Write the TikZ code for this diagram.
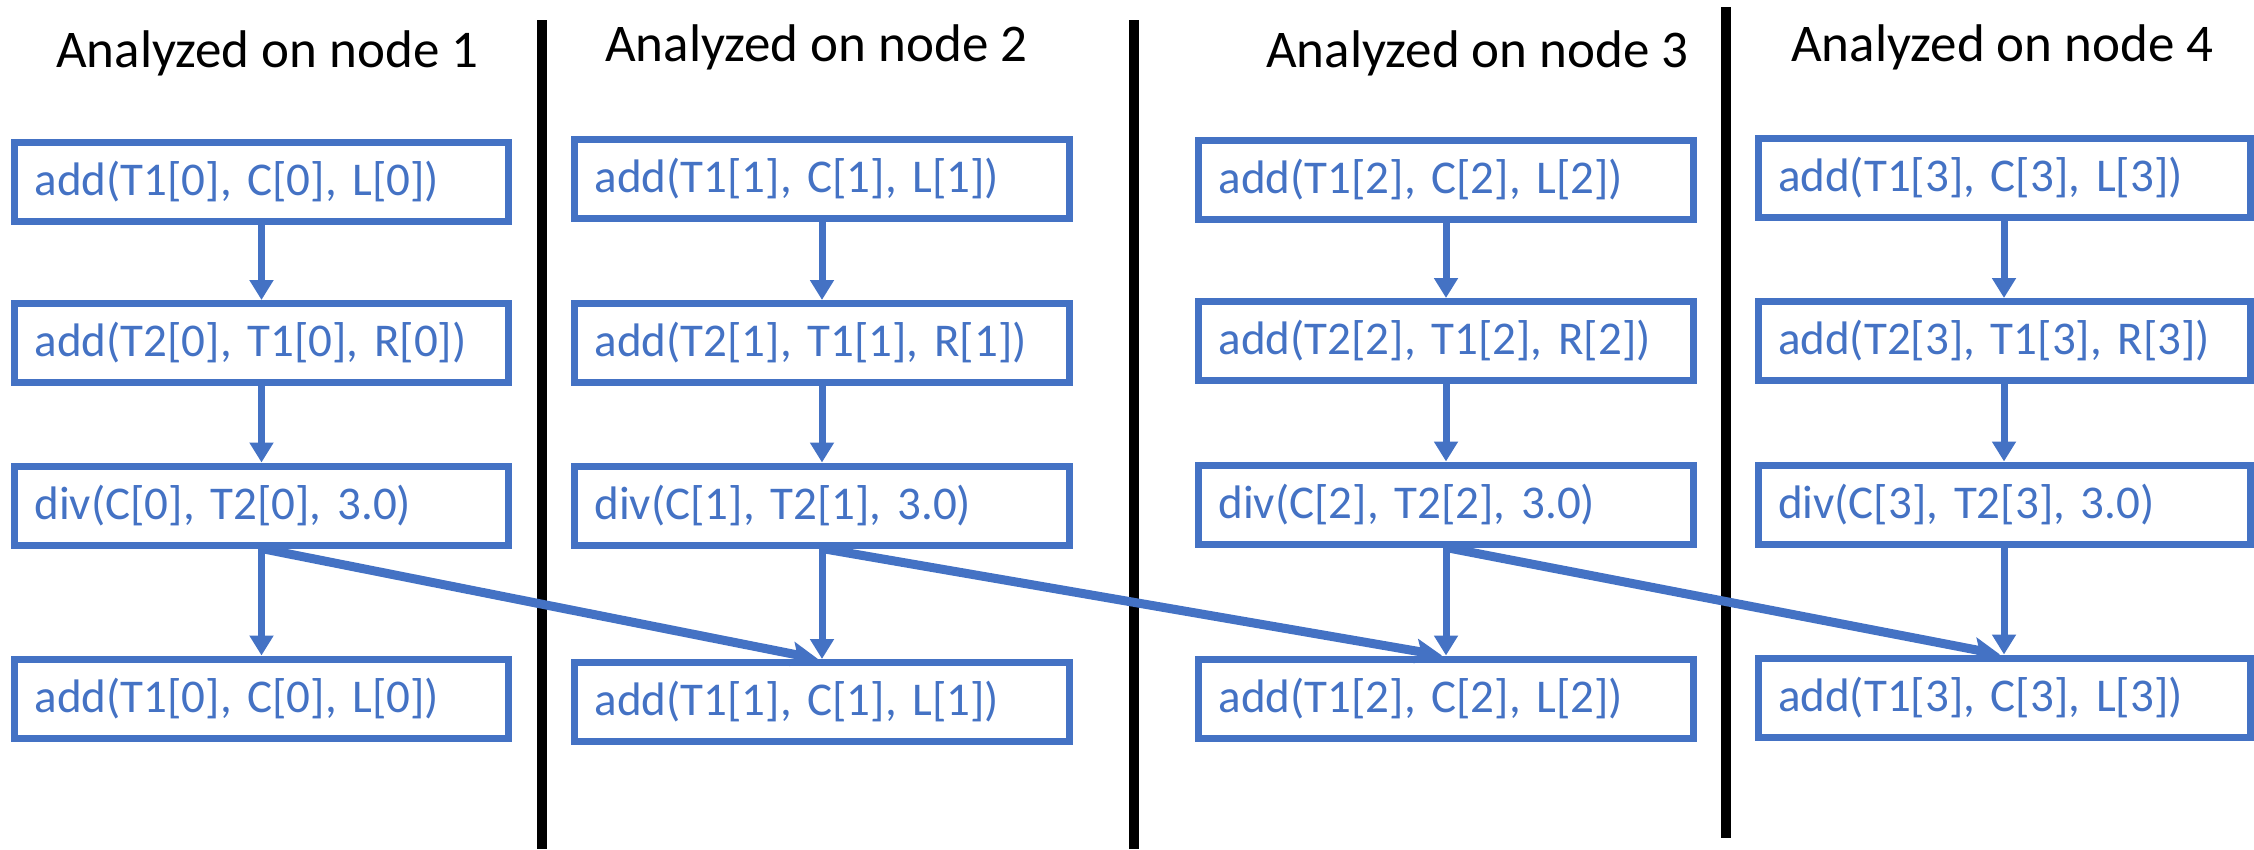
\documentclass[tikz,border=0pt]{standalone}
\usepackage{fontspec}
\setmainfont{Carlito}
\usetikzlibrary{arrows.meta}
\definecolor{offblue}{HTML}{4472C4}
\begin{document}
\begin{tikzpicture}[x=1pt,y=-1pt,
  title/.style={anchor=base west,inner sep=0pt,font=\fontsize{53}{60}\selectfont,text=black},
  opbox/.style={draw=offblue,line width=7pt,rectangle,minimum height=79pt,
    inner xsep=20pt,inner ysep=0pt,align=left,text=offblue,
    font=\fontsize{47}{56}\selectfont},
  w1/.style={text width=454pt},
  w2/.style={text width=455pt},
  w4/.style={text width=452pt},
  flow/.style={draw=offblue,line width=7pt,-{Triangle[width=23pt,length=20pt]}},
  cross/.style={draw=offblue,line width=9pt,-{Stealth[width=24pt,length=26pt,inset=5pt]}},
  sep/.style={draw=black,line width=10pt}]
\useasboundingbox (0,0) rectangle (2254,849);

% titles
\node[title] (t1) at (56,67) {Analyzed on node 1};
\node[title] (t2) at (605,61) {Analyzed on node 2};
\node[title] (t3) at (1266,67) {Analyzed on node 3};
\node[title] (t4) at (1791,61) {Analyzed on node 4};

% separators
\coordinate (s1a) at (542,20); \coordinate (s1b) at (542,849);
\coordinate (s2a) at (1134,20); \coordinate (s2b) at (1134,849);
\coordinate (s3a) at (1726,7); \coordinate (s3b) at (1726,838);
\draw[sep] (s1a) -- (s1b);
\draw[sep] (s2a) -- (s2b);
\draw[sep] (s3a) -- (s3b);

% column 1
\node[opbox,w1] (a1) at (261.5,181.5) {add(T1[0], C[0], L[0])};
\node[opbox,w1] (b1) at (261.5,343) {add(T2[0], T1[0], R[0])};
\node[opbox,w1] (c1) at (261.5,505.5) {div(C[0], T2[0], 3.0)};
\node[opbox,w1] (d1) at (261.5,698.5) {add(T1[0], C[0], L[0])};
% column 2
\node[opbox,w2] (a2) at (822,178.5) {add(T1[1], C[1], L[1])};
\node[opbox,w2] (b2) at (822,343) {add(T2[1], T1[1], R[1])};
\node[opbox,w2] (c2) at (822,505.5) {div(C[1], T2[1], 3.0)};
\node[opbox,w2] (d2) at (822,702) {add(T1[1], C[1], L[1])};
% column 3
\node[opbox,w2] (a3) at (1446,179.5) {add(T1[2], C[2], L[2])};
\node[opbox,w2] (b3) at (1446,341) {add(T2[2], T1[2], R[2])};
\node[opbox,w2] (c3) at (1446,504.5) {div(C[2], T2[2], 3.0)};
\node[opbox,w2] (d3) at (1446,698.5) {add(T1[2], C[2], L[2])};
% column 4
\node[opbox,w4] (a4) at (2004,177.5) {add(T1[3], C[3], L[3])};
\node[opbox,w4] (b4) at (2004,341) {add(T2[3], T1[3], R[3])};
\node[opbox,w4] (c4) at (2004,504.5) {div(C[3], T2[3], 3.0)};
\node[opbox,w4] (d4) at (2004,697.5) {add(T1[3], C[3], L[3])};

% vertical flows
\foreach \i in {1,2,3,4}{
  \draw[flow] (a\i.south) -- (b\i.north);
  \draw[flow] (b\i.south) -- (c\i.north);
  \draw[flow] (c\i.south) -- (d\i.north);
}
% cross-node flows
\draw[cross] (c1.south) -- ([xshift=-4pt]d2.north);
\draw[cross] (c2.south) -- ([xshift=-4pt]d3.north);
\draw[cross] (c3.south) -- ([xshift=-4pt]d4.north);
\end{tikzpicture}
\end{document}
